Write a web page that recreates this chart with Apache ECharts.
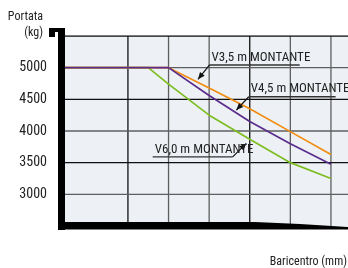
<!DOCTYPE html>
<html><head><meta charset="utf-8">
<script src="https://cdn.jsdelivr.net/npm/echarts@6/dist/echarts.min.js"></script>
<style>html,body{margin:0;padding:0;background:#fff}#c{width:348px;height:268px}</style>
</head><body><div id="c"></div>
<script>
const FONT = "'Liberation Sans Narrow','Roboto Condensed','Arial Narrow',Roboto,sans-serif";
const xTicks = [600, 800, 1000, 1200, 1400, 1600];
const yGrid = [3000, 3500, 4000, 4500, 5000, 5500];
const xMin = 290, xMax = 1684, yMin = 2500, yMax = 5500;
const v35x = [290, 800, 1000, 1200, 1400, 1600];
const v35y = [5000, 5000, 4680, 4350, 3990, 3630];
const v45x = [290, 800, 1000, 1200, 1400, 1600];
const v45y = [5000, 5000, 4560, 4150, 3800, 3475];
const v60x = [290, 700, 800, 1000, 1200, 1400, 1600];
const v60y = [5000, 5000, 4740, 4250, 3870, 3500, 3250];
const seriesNames = ['V3,5 m MONTANTE', 'V4,5 m MONTANTE', 'V6,0 m MONTANTE'];
const annotations = [
  {text: seriesNames[0], u0: 1002, u1: 1446, uy: 5043, tx: 945, ty: 4816, from: 'start'},
  {text: seriesNames[1], u0: 1195, u1: 1623, uy: 4541, tx: 1134, ty: 4330, from: 'start'},
  {text: seriesNames[2], u0: 722, u1: 1116, uy: 3592, tx: 1183, ty: 3804, from: 'end'}
];
const DARK = '#111', GREY = '#5f5f5f';
const zip = (a, b) => a.map((v, i) => [v, b[i]]);
const el = document.getElementById('c');
const lineS = (name, xs, ys, color, extra) => Object.assign({
  name, type: 'line', data: zip(xs, ys), showSymbol: false,
  lineStyle: {color, width: 1.7}, z: 3
}, extra || {});
const gridLine = (data, color) => ({
  type: 'line', data, showSymbol: false, silent: true, z: 1,
  lineStyle: {color, width: 1.3}
});
const gridSeries = [
  ...xTicks.map((v, i) => gridLine([[v, yMin], [v, yMax]], i % 3 === 0 ? DARK : GREY)),
  ...yGrid.map((v, i) => gridLine([[xMin, v], [xMax, v]], i % 2 === 1 ? DARK : GREY))
];
const labelMarks = {
  symbol: 'none', silent: true,
  label: {show: true, position: 'start', distance: 9, formatter: p => String(p.value), fontFamily: FONT, fontSize: 14, color: '#222'},
  lineStyle: {opacity: 0},
  data: xTicks.map(v => ({xAxis: v}))
};
const option = {
  animation: false,
  grid: {left: 65, top: 36, right: 0, bottom: 42, show: true, backgroundColor: '#edf1f5', borderWidth: 0},
  xAxis: {
    type: 'value', min: xMin, max: xMax,
    axisLine: {show: false}, axisTick: {show: false}, axisLabel: {show: false}, splitLine: {show: false}
  },
  yAxis: {
    type: 'value', min: yMin, max: yMax, interval: 500,
    axisLine: {show: false}, axisTick: {show: false},
    axisLabel: {fontFamily: FONT, fontSize: 14, color: '#222', margin: 18, showMinLabel: false, showMaxLabel: false, formatter: v => String(v)},
    splitLine: {show: false}
  },
  series: [
    ...gridSeries,
    lineS(seriesNames[2], v60x, v60y, '#7dbd22', {markLine: labelMarks}),
    lineS(seriesNames[0], v35x, v35y, '#f28c0f'),
    lineS(seriesNames[1], v45x, v45y, '#5a2d8c')
  ]
};
const chart = echarts.init(el);
chart.setOption(option);
const P = (x, y) => chart.convertToPixel({gridIndex: 0}, [x, y]);
const g = [];
annotations.forEach(a => {
  const s = P(a.u0, a.uy), e = P(a.u1, a.uy), t = P(a.tx, a.ty);
  const f = a.from === 'start' ? s : e;
  g.push({type: 'line', shape: {x1: s[0], y1: s[1], x2: e[0], y2: e[1]}, style: {stroke: '#333', lineWidth: 1.4}, z: 10});
  g.push({type: 'line', shape: {x1: f[0], y1: f[1], x2: t[0], y2: t[1]}, style: {stroke: '#111', lineWidth: 1.2}, z: 10});
  const ang = Math.atan2(t[1] - f[1], t[0] - f[0]);
  const L = 7, W = 3;
  const bx = t[0] - L * Math.cos(ang), by = t[1] - L * Math.sin(ang);
  g.push({type: 'polygon', shape: {points: [t, [bx + W * Math.sin(ang), by - W * Math.cos(ang)], [bx - W * Math.sin(ang), by + W * Math.cos(ang)]]}, style: {fill: '#111'}, z: 10});
  g.push({type: 'text', x: s[0] + 2, y: s[1] - 1, style: {text: a.text, fontFamily: FONT, fontSize: 13, fill: '#222', textVerticalAlign: 'bottom'}, z: 11});
});
g.push({type: 'rect', shape: {x: 58, y: 28, width: 7, height: 202}, style: {fill: '#000'}, z: 20});
g.push({type: 'rect', shape: {x: 49, y: 28, width: 16, height: 4}, style: {fill: '#000'}, z: 20});
g.push({type: 'rect', shape: {x: 49, y: 28, width: 6, height: 9}, style: {fill: '#000'}, z: 20});
g.push({type: 'polygon', shape: {points: [[58, 222], [255, 222], [300, 224], [348, 227], [348, 229.5], [58, 229.5]]}, style: {fill: '#000'}, z: 20});
g.push({type: 'text', x: 43, y: 17, style: {text: 'Portata', fontFamily: FONT, fontSize: 12, fill: '#222', textAlign: 'right', textVerticalAlign: 'middle'}, z: 20});
g.push({type: 'text', x: 43, y: 33, style: {text: '(kg)', fontFamily: FONT, fontSize: 12, fill: '#222', textAlign: 'right', textVerticalAlign: 'middle'}, z: 20});
g.push({type: 'text', x: 347, y: 262, style: {text: 'Baricentro (mm)', fontFamily: FONT, fontSize: 12, fill: '#222', textAlign: 'right', textVerticalAlign: 'middle'}, z: 20});
chart.setOption({graphic: g});
</script></body></html>
